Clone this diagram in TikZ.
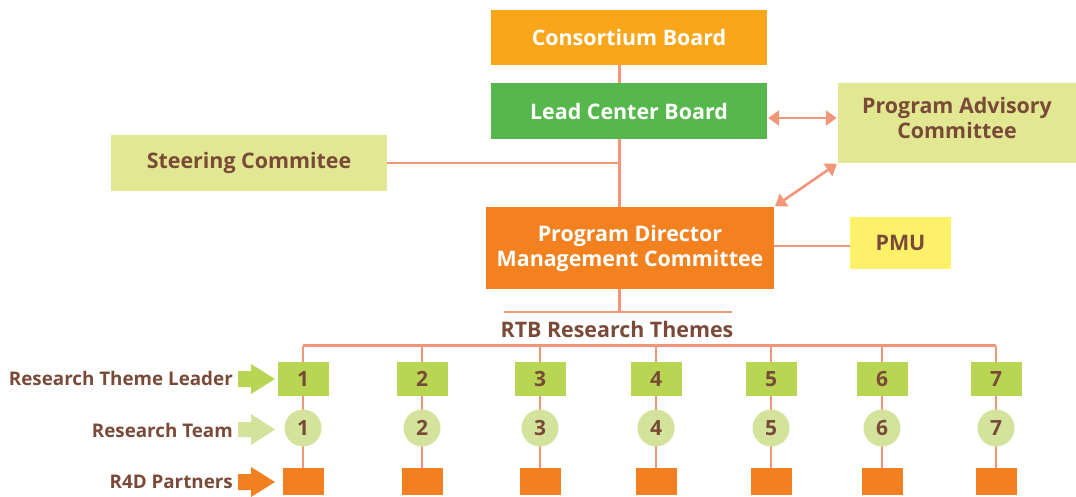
\documentclass[tikz,border=0pt]{standalone}
\usepackage{fontspec}
\setmainfont{Open Sans}
\usetikzlibrary{arrows.meta,backgrounds}
\definecolor{cbc}{HTML}{F9A61A}
\definecolor{lcbc}{HTML}{56B84C}
\definecolor{palec}{HTML}{E2E792}
\definecolor{pmuc}{HTML}{FFF06A}
\definecolor{pdc}{HTML}{F38120}
\definecolor{sqc}{HTML}{B8D653}
\definecolor{circc}{HTML}{D4E39C}
\definecolor{orc}{HTML}{F27F20}
\definecolor{linec}{HTML}{F29679}
\definecolor{brownc}{HTML}{7A4A38}
\tikzset{
  box/.style={rectangle, inner sep=0pt, align=center, font=\fontsize{21.4}{25}\selectfont\bfseries},
  whitebox/.style={box, text=white},
  palebox/.style={box, fill=palec, text=brownc},
  leader/.style={rectangle, inner sep=0pt, fill=sqc, minimum width=51pt, minimum height=34pt, text=brownc, font=\fontsize{21}{24}\selectfont\bfseries},
  team/.style={circle, inner sep=0pt, fill=circc, minimum size=37pt, text=brownc, font=\fontsize{21}{24}\selectfont\bfseries},
  partner/.style={rectangle, inner sep=0pt, fill=orc, minimum width=41pt, minimum height=27pt},
  rowlabel/.style={anchor=east, inner sep=0pt, text=brownc, font=\fontsize{18.8}{23}\selectfont\bfseries},
  conn/.style={draw=linec, line width=2.6pt},
  dbl/.style={conn, {Triangle[length=11pt,width=15pt]}-{Triangle[length=11pt,width=15pt]}, shorten <=1pt, shorten >=1pt},
}
\begin{document}
\begin{tikzpicture}[x=1pt,y=-1pt]
\useasboundingbox (0,0) rectangle (1076,496);
\node[whitebox, fill=cbc, minimum width=276pt, minimum height=55pt] (cb) at (629,37.5) {Consortium Board};
\node[whitebox, fill=lcbc, minimum width=276pt, minimum height=56pt] (lcb) at (629,111) {Lead Center Board};
\node[palebox, minimum width=238pt, minimum height=80pt, text depth=10pt] (pac) at (957,123) {Program Advisory\\Committee};
\node[palebox, minimum width=276pt, minimum height=56pt] (steer) at (249,163) {Steering Commitee};
\node[whitebox, fill=pdc, minimum width=288pt, minimum height=82pt] (pd) at (630,248) {Program Director\\Management Committee};
\node[box, fill=pmuc, text=brownc, minimum width=101pt, minimum height=52pt] (pmu) at (900.5,243) {PMU};
\node[box, text=brownc, inner sep=0pt] (rtb) at (617,329) {RTB Research Themes};
\coordinate (spine) at (619.5,0);
\coordinate (stl) at (504,312);
\coordinate (str) at (732,312);
\foreach \i/\x in {1/303,2/422,3/540,4/656,5/771,6/882,7/996}{
  \node[leader] (l\i) at (\x,379) {\i};
  \node[team] (t\i) at (\x,428) {\i};
  \node[partner] (p\i) at (\x,481.5) {};
  \coordinate (b\i) at (\x,345.5);
}
\node[rowlabel] (rl1) at (233,378) {Research Theme Leader};
\node[rowlabel] (rl2) at (233,430) {Research Team};
\node[rowlabel] (rl3) at (233,482) {R4D Partners};
\fill[sqc] (238,371) -- (251,371) -- (251,364) -- (275,379) -- (251,394) -- (251,387) -- (238,387) -- cycle;
\fill[circc] (238,422) -- (251,422) -- (251,414) -- (275,429.5) -- (251,445) -- (251,437) -- (238,437) -- cycle;
\fill[orc] (238,474) -- (251,474) -- (251,467) -- (275,482) -- (251,497) -- (251,490) -- (238,490) -- cycle;
\begin{pgfonlayer}{background}
  \draw[conn] (cb.south -| spine) -- (lcb.north -| spine);
  \draw[conn] (lcb.south -| spine) -- (pd.north -| spine);
  \draw[conn] (steer.east) -- (steer.east -| spine);
  \draw[conn] (pd.south -| spine) -- (stl -| spine);
  \draw[conn] (stl) -- (str);
  \draw[conn] (pd.east |- 0,246) -- (pmu.west |- 0,246);
  \draw[conn] (b1) -- (b7);
  \foreach \i in {1,...,7}{
    \draw[conn] (b\i) -- (p\i.north);
  }
\end{pgfonlayer}
\draw[dbl] (lcb.east |- 0,118) -- (pac.west |- 0,118);
\draw[dbl] (pac.south west) -- (pd.north east);
\end{tikzpicture}
\end{document}
